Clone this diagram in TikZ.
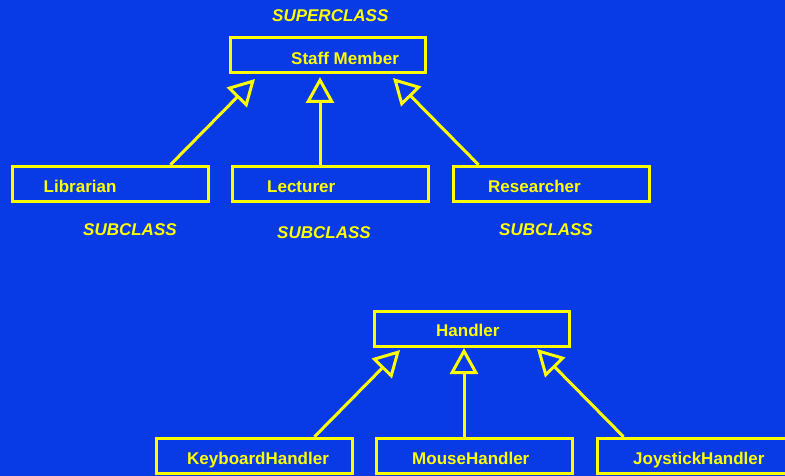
\documentclass[tikz,border=0pt]{standalone}
\usepackage{fontspec}
\setmainfont{Liberation Sans}
\usetikzlibrary{arrows.meta,calc}
\definecolor{slideblue}{RGB}{8,58,230}
\definecolor{slideyellow}{RGB}{255,255,0}
\tikzset{
  classbox/.style={draw=slideyellow, line width=3pt, minimum height=35.5pt, minimum width=196pt, inner sep=0pt},
  classname/.style={text=slideyellow, anchor=base west, inner sep=0pt, font=\fontsize{17}{20}\selectfont\bfseries},
  rolename/.style={text=slideyellow, anchor=base west, inner sep=0pt, font=\fontsize{17}{20}\selectfont\bfseries\itshape},
  inherits/.style={draw=slideyellow, line width=3pt,
    -{Triangle[open, length=26pt, width=28pt, line width=3pt]}}
}
\begin{document}
\begin{tikzpicture}[x=1pt, y=-1pt]
  \useasboundingbox (0,0) rectangle (785,476);
  \fill[slideblue] (0,0) rectangle (785,476);

  % --- staff hierarchy ---
  \node[rolename] (super) at (272,21.5) {SUPERCLASS};
  \node[classbox, minimum width=195pt, minimum height=35pt] (staff) at (327.5,55.5) {};
  \node[classname] (stafft) at (291,64.3) {Staff Member};

  \node[classbox] (lib) at (110,184) {};
  \node[classname] (libt) at (43.5,192.3) {Librarian};
  \node[classbox] (lec) at (330,184) {};
  \node[classname] (lect) at (267,192.3) {Lecturer};
  \node[classbox] (res) at (551,184) {};
  \node[classname] (rest) at (488,192.3) {Researcher};

  \node[rolename] (sub1) at (83,236) {SUBCLASS};
  \node[rolename] (sub2) at (277,238) {SUBCLASS};
  \node[rolename] (sub3) at (499,236) {SUBCLASS};

  \coordinate (tipA) at (255,79);
  \coordinate (tipB) at (320,77);
  \coordinate (tipC) at (393,78);
  \draw[inherits] ($(lib.north west)+(160,0)$) -- (tipA);
  \draw[inherits] (lec.north -| tipB) -- (tipB);
  \draw[inherits] ($(res.north west)+(27,0)$) -- (tipC);

  % --- handler hierarchy ---
  \node[classbox, minimum width=195pt, minimum height=35pt] (hand) at (471.5,328.5) {};
  \node[classname] (handt) at (436,336) {Handler};

  \node[classbox] (kbd) at (254,456) {};
  \node[classname] (kbdt) at (187,464.3) {KeyboardHandler};
  \node[classbox] (mouse) at (474,456) {};
  \node[classname] (mouset) at (412,464.3) {MouseHandler};
  \node[classbox] (joy) at (695,456) {};
  \node[classname] (joyt) at (633,464.3) {JoystickHandler};

  \coordinate (tipD) at (400,350);
  \coordinate (tipE) at (464,348);
  \coordinate (tipF) at (537,349);
  \draw[inherits] ($(kbd.north west)+(160,0)$) -- (tipD);
  \draw[inherits] (mouse.north -| tipE) -- (tipE);
  \draw[inherits] ($(joy.north west)+(28,0)$) -- (tipF);
\end{tikzpicture}
\end{document}
